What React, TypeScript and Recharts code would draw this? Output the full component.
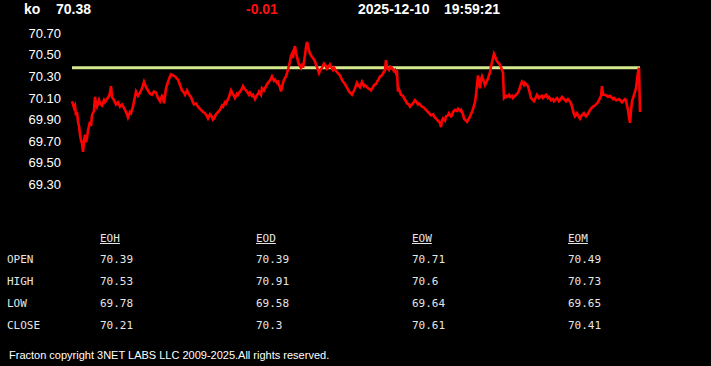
import { LineChart, Line, XAxis, YAxis, ReferenceLine } from "recharts";

const SYMBOL = "ko";
const LAST = 70.38;
const CHANGE = "-0.01";
const DATE = "2025-12-10";
const TIME = "19:59:21";

const Y_TICKS = [69.3, 69.5, 69.7, 69.9, 70.1, 70.3, 70.5, 70.7];

// minutes into the session, paired with PRICES below
const MINUTES = [
  0, 1, 2, 3, 4, 5, 6, 7, 8, 9, 10, 11, 12, 13, 14, 15, 16,
  18, 19, 20, 22, 23, 24, 25, 27, 28, 30, 32, 33, 35, 37, 38, 39, 40, 42, 44, 46,
  48, 50, 53, 55, 56, 58, 59, 61, 62, 64, 66, 68, 70, 72, 74, 76, 78, 80, 82, 84,
  86, 88, 90, 91, 92, 94, 96, 98, 99, 101, 103, 105, 106, 108, 110, 112, 113, 115, 116, 118,
  119, 121, 122, 124, 126, 128, 129, 131, 133, 135, 136, 138, 139, 141, 142, 144, 145, 147, 148, 150,
  151, 153, 154, 156, 157, 159, 160, 162, 163, 165, 166, 168, 169, 171, 172, 174, 175, 177, 178, 180,
  181, 183, 184, 186, 187, 189, 190, 192, 194, 196, 197, 199, 200, 202, 203, 205, 206, 208, 209, 211,
  212, 214, 215, 217, 218, 219, 220, 221, 222, 223, 224, 225, 226, 227, 229, 230, 231, 232, 233, 234,
  235, 236, 237, 238, 240, 241, 243, 244, 246, 247, 249, 250, 252, 253, 255, 256, 258, 259, 261, 262,
  264, 265, 267, 268, 270, 271, 273, 274, 276, 277, 279, 280, 282, 283, 285, 286, 288, 290, 292, 293,
  295, 296, 298, 299, 301, 302, 304, 305, 307, 308, 310, 311, 313, 314, 315, 317, 318, 320, 322, 323,
  324, 325, 326, 327, 329, 331, 332, 334, 335, 337, 338, 340, 341, 343, 344, 346, 347, 349, 350, 352,
  353, 355, 356, 358, 359, 361, 362, 364, 365, 367, 368, 369, 370, 371, 373, 374, 376, 377, 379, 380,
  381, 383, 385, 386, 388, 389, 391, 392, 394, 395, 397, 398, 400, 401, 403, 404, 405, 406, 407, 408,
  409, 410, 412, 413, 415, 416, 418, 419, 421, 422, 423, 424, 425, 427, 428, 430, 431, 432, 434, 435,
  437, 438, 440, 441, 443, 444, 446, 447, 449, 450, 452, 453, 455, 456, 458, 459, 461, 462, 464, 465,
  467, 468, 470, 471, 473, 474, 476, 477, 479, 481, 482, 484, 485, 487, 488, 490, 491, 493, 494, 496,
  497, 499, 500, 502, 503, 505, 506, 508, 509, 511, 512, 514, 515, 517, 518, 520, 521, 523, 524, 526,
  527, 529, 530, 531, 533, 535, 536, 538, 539, 541, 542, 544, 545, 547, 548, 550, 551, 553, 554, 555,
  556, 557, 558, 559, 560, 561, 562, 563, 564, 565, 566, 567, 568,
];

const PRICES = [
  70.07, 70.04, 70.01, 70.03, 69.94, 69.97, 69.88, 69.84, 69.76, 69.71, 69.68, 69.6, 69.7, 69.76, 69.69, 69.73, 69.8,
  69.88, 69.84, 69.94, 69.98, 70.11, 70.05, 70.02, 70.08, 70.05, 70.03, 70.08, 70.06, 70.09, 70.12, 70.15, 70.21, 70.11, 70.08, 70.04, 70.06,
  70.02, 70.04, 69.99, 69.95, 69.92, 69.97, 69.96, 70.02, 70.07, 70.16, 70.12, 70.15, 70.19, 70.25, 70.2, 70.17, 70.14, 70.13, 70.16, 70.15,
  70.1, 70.07, 70.12, 70.11, 70.05, 70.19, 70.25, 70.3, 70.32, 70.31, 70.3, 70.28, 70.27, 70.22, 70.17, 70.15, 70.13, 70.17, 70.15, 70.12,
  70.11, 70.06, 70.04, 70.05, 70.02, 70.0, 69.99, 69.97, 69.96, 69.93, 69.91, 69.95, 69.94, 69.9, 69.91, 69.95, 69.96, 69.98, 69.99, 70.03,
  70.02, 70.06, 70.05, 70.09, 70.11, 70.17, 70.15, 70.12, 70.1, 70.14, 70.13, 70.16, 70.17, 70.21, 70.19, 70.17, 70.16, 70.13, 70.15, 70.12,
  70.13, 70.09, 70.11, 70.14, 70.16, 70.13, 70.19, 70.17, 70.21, 70.24, 70.25, 70.28, 70.3, 70.26, 70.27, 70.24, 70.25, 70.2, 70.16, 70.24,
  70.27, 70.3, 70.33, 70.4, 70.44, 70.49, 70.51, 70.47, 70.55, 70.58, 70.52, 70.48, 70.44, 70.41, 70.38, 70.42, 70.38, 70.44, 70.5, 70.57,
  70.62, 70.58, 70.54, 70.51, 70.48, 70.47, 70.44, 70.41, 70.36, 70.33, 70.37, 70.38, 70.42, 70.41, 70.37, 70.38, 70.41, 70.39, 70.36, 70.38,
  70.35, 70.34, 70.32, 70.31, 70.27, 70.25, 70.23, 70.21, 70.18, 70.16, 70.14, 70.13, 70.17, 70.19, 70.24, 70.22, 70.2, 70.25, 70.21, 70.22,
  70.2, 70.19, 70.18, 70.17, 70.2, 70.22, 70.23, 70.25, 70.28, 70.3, 70.31, 70.33, 70.36, 70.45, 70.38, 70.36, 70.39, 70.38, 70.35, 70.36,
  70.33, 70.34, 70.16, 70.18, 70.13, 70.12, 70.1, 70.07, 70.05, 70.04, 70.02, 70.04, 70.05, 70.08, 70.07, 70.04, 70.05, 70.03, 70.02, 70.01,
  70.0, 69.98, 69.97, 69.95, 69.94, 69.95, 69.93, 69.91, 69.9, 69.88, 69.87, 69.83, 69.89, 69.91, 69.89, 69.93, 69.94, 69.96, 69.93, 69.94,
  69.97, 69.99, 69.98, 70.0, 69.98, 69.99, 69.95, 69.91, 69.89, 69.88, 69.91, 69.93, 69.97, 70.0, 70.06, 70.13, 70.22, 70.31, 70.24, 70.19,
  70.27, 70.3, 70.25, 70.22, 70.26, 70.28, 70.34, 70.39, 70.47, 70.51, 70.49, 70.46, 70.44, 70.42, 70.41, 70.36, 70.33, 70.1, 70.12, 70.11,
  70.13, 70.11, 70.12, 70.1, 70.12, 70.13, 70.15, 70.17, 70.23, 70.25, 70.22, 70.24, 70.22, 70.21, 70.14, 70.1, 70.08, 70.07, 70.11, 70.13,
  70.1, 70.11, 70.12, 70.1, 70.12, 70.13, 70.1, 70.11, 70.08, 70.09, 70.07, 70.09, 70.1, 70.07, 70.08, 70.11, 70.1, 70.08, 70.07, 70.09,
  70.08, 70.05, 70.02, 69.95, 69.93, 69.96, 69.94, 69.91, 69.93, 69.95, 69.96, 69.93, 69.94, 69.97, 69.99, 70.01, 70.02, 70.03, 70.04, 70.06,
  70.08, 70.12, 70.21, 70.13, 70.13, 70.12, 70.11, 70.12, 70.11, 70.09, 70.1, 70.08, 70.08, 70.09, 70.08, 70.06, 70.07, 70.09, 70.08, 70.03,
  69.99, 69.92, 69.87, 69.98, 70.07, 70.1, 70.13, 70.16, 70.19, 70.27, 70.34, 70.38, 69.97,
];

const ROW_LABELS = ["OPEN", "HIGH", "LOW", "CLOSE"];
const PERIODS = ["EOH", "EOD", "EOW", "EOM"];
const OPEN = ["70.39", "70.39", "70.71", "70.49"];
const HIGH = ["70.53", "70.91", "70.6", "70.73"];
const LOW = ["69.78", "69.58", "69.64", "69.65"];
const CLOSE = ["70.21", "70.3", "70.61", "70.41"];

const FOOTER = "Fracton copyright 3NET LABS LLC 2009-2025.All rights reserved.";

const data = MINUTES.map((m, i) => ({ m, price: PRICES[i] }));

const sans = "'Liberation Sans', Arial, sans-serif";
const mono = "'DejaVu Sans Mono', monospace";

const colX = [100, 256, 412, 568];
const rowY = [253, 275, 297, 319];

function Txt({ x, y, children, style }: any) {
  return (
    <div style={{ position: "absolute", left: x, top: y, whiteSpace: "pre", lineHeight: "14px", ...style }}>
      {children}
    </div>
  );
}

export default function App() {
  const rows = [OPEN, HIGH, LOW, CLOSE];
  const head = { fontFamily: sans, fontWeight: 700, fontSize: 14, color: "#ffffff", lineHeight: "16px" };
  const cell = { fontFamily: mono, fontSize: 11, color: "#e6e6e6" };

  return (
    <div style={{ position: "fixed", left: 0, top: 0, width: 711, height: 366, background: "#000", overflow: "hidden" }}>
      <Txt x={24} y={1} style={head}>{SYMBOL}</Txt>
      <Txt x={56} y={1} style={head}>{LAST.toFixed(2)}</Txt>
      <Txt x={246} y={1} style={{ ...head, color: "#ff1010" }}>{CHANGE}</Txt>
      <Txt x={358} y={1} style={head}>{DATE}</Txt>
      <Txt x={444} y={1} style={head}>{TIME}</Txt>

      <div style={{ position: "absolute", left: 0, top: 0 }}>
        <LineChart width={711} height={200} data={data} margin={{ top: 22.5, right: 71, bottom: 4.9, left: 0 }}>
          <XAxis dataKey="m" type="number" domain={[0, 568]} hide />
          <YAxis
            domain={[69.2, 70.8]}
            ticks={Y_TICKS}
            tickFormatter={(v) => v.toFixed(2)}
            axisLine={false}
            tickLine={false}
            tickSize={0}
            tickMargin={11}
            width={72}
            tick={{ fill: "#ffffff", fontSize: 13, fontFamily: sans }}
            interval={0}
          />
          <ReferenceLine y={LAST} stroke="#d6e88c" strokeWidth={3} />
          <Line
            dataKey="price"
            stroke="#ff0000"
            strokeWidth={2.6}
            dot={false}
            isAnimationActive={false}
            strokeLinejoin="miter"
          />
        </LineChart>
      </div>

      {PERIODS.map((p, i) => (
        <Txt key={p} x={colX[i]} y={232} style={{ ...cell, textDecoration: "underline" }}>{p}</Txt>
      ))}
      {ROW_LABELS.map((r, j) => (
        <Txt key={r} x={7} y={rowY[j]} style={cell}>{r}</Txt>
      ))}
      {rows.map((vals, j) =>
        vals.map((v, i) => (
          <Txt key={`${j}-${i}`} x={colX[i]} y={rowY[j]} style={cell}>{v}</Txt>
        ))
      )}

      <Txt x={9} y={348} style={{ fontFamily: sans, fontSize: 11, color: "#ffffff" }}>{FOOTER}</Txt>
    </div>
  );
}
